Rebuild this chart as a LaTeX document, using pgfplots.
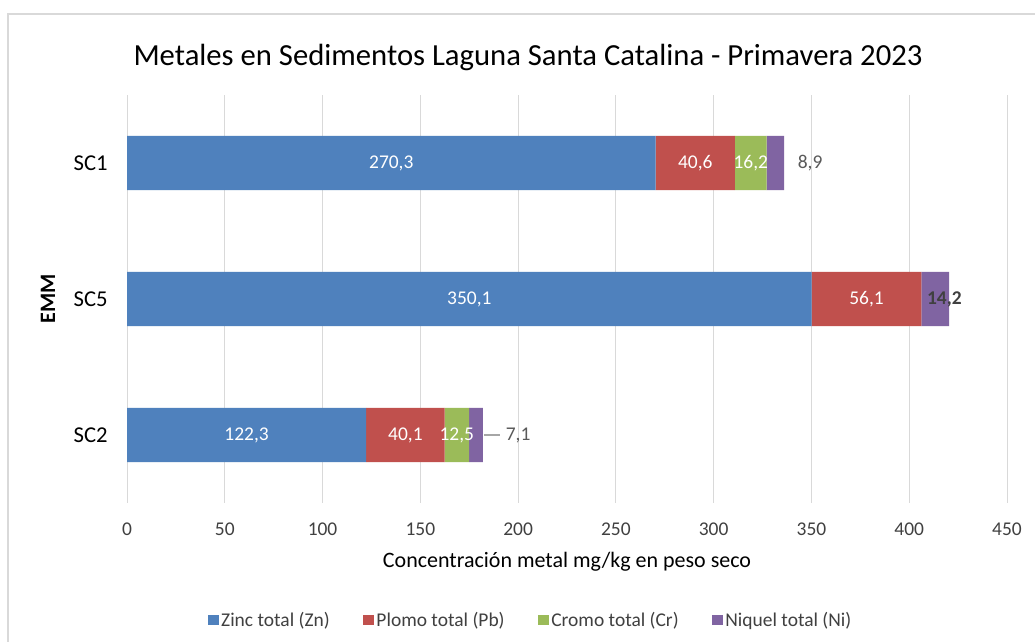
\documentclass[border=0pt]{standalone}
\usepackage{fontspec}
\setmainfont{Carlito}
\usepackage{pgfplots}
\usepackage{pgfplotstable}
\pgfplotsset{compat=1.18}
\definecolor{zn}{HTML}{4F81BD}
\definecolor{pb}{HTML}{C0504D}
\definecolor{cr}{HTML}{9BBB59}
\definecolor{ni}{HTML}{8064A2}
\definecolor{gridc}{HTML}{D9D9D9}
\definecolor{txt}{HTML}{404040}
\definecolor{lbl}{HTML}{595959}

\pgfplotstableread{
y zn pb cr ni
2 270.3 40.6 16.2 8.9
1 350.1 56.1 0 14.2
0 122.3 40.1 12.5 7.1
}\datatable

\pgfplotstableread{
x y lab
135.15 2 270,3
290.6 2 40,6
319.0 2 16,2
175.05 1 350,1
378.15 1 56,1
61.15 0 122,3
142.35 0 40,1
168.65 0 12,5
}\whitelabels

\pgfplotstableread{
x y lab
349.3 2 8,9
200.0 0 7,1
}\graylabels

\pgfplotstableread{
x y lab
418.0 1 14,2
}\boldlabels

\newcommand{\fs}{\fontsize{14.6}{17}\selectfont}
\newcommand{\fl}{\fontsize{16.5}{19}\selectfont}

\begin{document}
\begin{tikzpicture}
\begin{scope}[x=0.75pt,y=0.75pt]
\useasboundingbox (0,0) rectangle (1035,642);
\fill[white] (0,0) rectangle (1035,642);
\draw[gridc, line width=1.5pt] (8,0) -- (8,628) -- (1035,628);
\node[font=\fontsize{23}{27}\selectfont, text=black] at (528,585) {Metales en Sedimentos Laguna Santa Catalina - Primavera 2023};
\node[font=\fl, text=black] at (567,80) {Concentración metal mg/kg en peso seco};
\node[font=\fl\bfseries, text=black, rotate=90] at (48,343) {EMM};
\end{scope}

\begin{axis}[
  at={(95.25pt,104.25pt)}, anchor=south west,
  scale only axis, width=660pt, height=306pt,
  xbar stacked, bar width=0.4,
  xmin=0, xmax=450, ymin=-0.5, ymax=2.5,
  ytick={0,1,2}, yticklabels={SC2,SC5,SC1},
  xtick={0,50,...,450},
  xmajorgrids, grid style={color=gridc, line width=0.75pt},
  axis line style={draw=none},
  major tick length=0pt,
  /pgf/number format/assume math mode=true,
  tick label style={font=\fs, text=txt},
  xticklabel style={yshift=-11.5pt},
  yticklabel style={xshift=-11pt, font=\fontsize{17}{20}\selectfont, text=black},
  legend style={at={(0.459,-0.287)}, anchor=center, draw=none, font=\fs, text=txt,
    legend columns=4, /tikz/every even column/.append style={column sep=23pt}},
  legend image code/.code={\fill[#1] (0pt,-4pt) rectangle (8pt,4pt);},
  clip=false,
]
\addplot[fill=zn, draw=none] table[x=zn, y=y]{\datatable};
\addplot[fill=pb, draw=none] table[x=pb, y=y]{\datatable};
\addplot[fill=cr, draw=none] table[x=cr, y=y]{\datatable};
\addplot[fill=ni, draw=none] table[x=ni, y=y]{\datatable};
\legend{Zinc total (Zn), Plomo total (Pb), Cromo total (Cr), Niquel total (Ni)}
\end{axis}

\begin{axis}[
  at={(95.25pt,104.25pt)}, anchor=south west,
  scale only axis, width=660pt, height=306pt,
  xmin=0, xmax=450, ymin=-0.5, ymax=2.5,
  hide axis, clip=false,
]
\addplot[draw=none, mark=none, nodes near coords, point meta=explicit symbolic,
  nodes near coords align={center},
  every node near coord/.append style={font=\fs, text=white, inner sep=0pt}]
  table[x=x, y=y, meta=lab]{\whitelabels};
\addplot[draw=none, mark=none, nodes near coords, point meta=explicit symbolic,
  nodes near coords align={center},
  every node near coord/.append style={font=\fs, text=lbl, inner sep=0pt}]
  table[x=x, y=y, meta=lab]{\graylabels};
\addplot[draw=none, mark=none, nodes near coords, point meta=explicit symbolic,
  nodes near coords align={center},
  every node near coord/.append style={font=\fs\bfseries, text=txt, inner sep=0pt}]
  table[x=x, y=y, meta=lab]{\boldlabels};
\addplot[color=gray!70, line width=0.9pt] coordinates {(182.6,0) (190.7,0)};
\end{axis}
\end{tikzpicture}
\end{document}
